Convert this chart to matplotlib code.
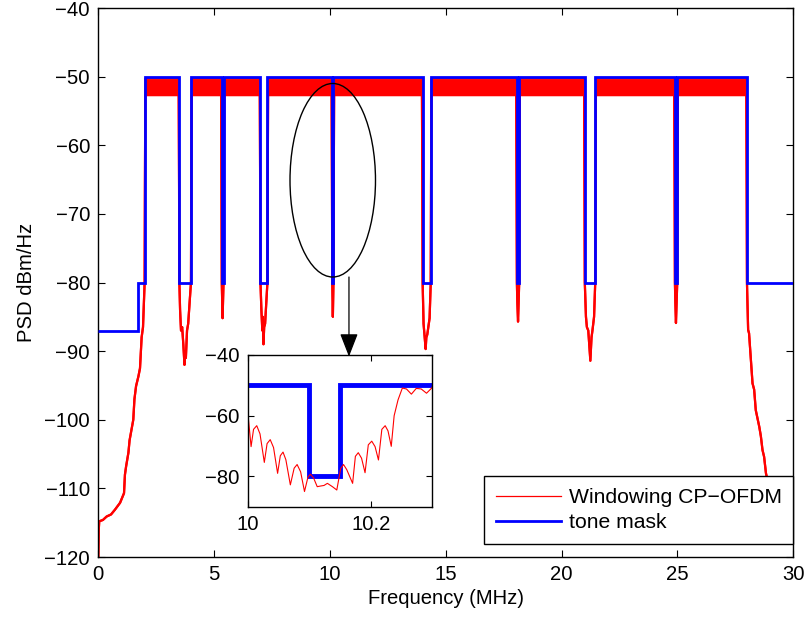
import matplotlib
matplotlib.use("Agg")
import matplotlib.pyplot as plt
from matplotlib.patches import Ellipse
from matplotlib.lines import Line2D

plt.rcParams['font.family'] = ['Liberation Sans', 'DejaVu Sans']
FS = 14.6
LFS = 15.2

# ---------------- data ----------------
# tone mask (stairs): edges in MHz, level in dBm/Hz between edges
mask_edges = [0, 1.7, 2.0, 3.5, 4.0, 5.33, 5.405, 7.0, 7.3, 10.1, 10.15,
              14.0, 14.35, 18.068, 18.168, 21.0, 21.45, 24.89, 24.99, 28.0, 30.0]
mask_levels = [-87, -80, -50, -80, -50, -80, -50, -80, -50, -80, -50,
               -80, -50, -80, -50, -80, -50, -80, -50, -80]

# active bands of the windowed CP-OFDM PSD and the noisy in-band envelope
bands = [(2.0, 3.5), (4.0, 5.33), (5.405, 7.0), (7.3, 10.1), (10.15, 14.0),
         (14.35, 18.068), (18.168, 21.0), (21.45, 24.89), (24.99, 28.0)]
band_top = -50.3
band_bottom = -52.7

# low-frequency roll-off (0 .. 2 MHz)
lead_freq = [0.0, 0.02, 0.04, 0.2, 0.36, 0.55, 0.72, 0.94, 1.11, 1.15, 1.20,
             1.30, 1.35, 1.41, 1.51, 1.56, 1.63, 1.73, 1.80, 1.87, 1.93, 2.0]
lead_psd = [-120.0, -116.0, -114.8, -114.6, -114.1, -113.8, -113.1, -112.1,
            -110.7, -108.0, -106.8, -104.8, -103.0, -101.9, -100.0, -97.0,
            -95.1, -93.7, -92.5, -88.0, -86.5, -80.0]

# notch profiles
notch_freqs = [
    [3.50, 3.53, 3.57, 3.62, 3.67, 3.72, 3.75, 3.78, 3.83, 3.88, 3.94, 4.00],
    [5.33, 5.35, 5.365, 5.38, 5.405],
    [7.0, 7.04, 7.08, 7.10, 7.13, 7.16, 7.20, 7.25, 7.30],
    [10.10, 10.115, 10.125, 10.135, 10.15],
    [14.0, 14.04, 14.09, 14.13, 14.16, 14.20, 14.25, 14.30, 14.35],
    [18.068, 18.09, 18.118, 18.14, 18.168],
    [21.0, 21.05, 21.09, 21.15, 21.19, 21.24, 21.29, 21.33, 21.40, 21.45],
    [24.89, 24.91, 24.935, 24.96, 24.99],
]
notch_psd = [
    [-80, -84, -87, -86.5, -89, -92, -90, -91, -87, -86, -83, -80],
    [-80, -83, -85.2, -83, -80],
    [-80, -84, -87, -85, -89, -86.5, -86, -83, -80],
    [-80, -83, -85, -83, -80],
    [-80, -86, -88, -89.7, -88, -87.6, -86.4, -85.2, -80],
    [-80, -83, -85.7, -83, -80],
    [-80, -85, -86.5, -87, -88.9, -91.4, -88, -87, -85, -80],
    [-80, -83, -85.9, -83, -80],
]

# high-frequency roll-off (28 .. 30 MHz)
tail_freq = [28.0, 28.05, 28.09, 28.17, 28.24, 28.31, 28.38, 28.53, 28.60,
             28.67, 28.74, 28.82, 29.0, 29.3, 29.6, 30.0]
tail_psd = [-80, -86.9, -87.4, -91.3, -94.7, -95.6, -98.6, -101.0, -102.4,
            -104.4, -105.4, -107.8, -110.5, -113.0, -115.5, -117.5]

# inset (zoom around the 10.1 MHz notch)
inset_freq = [10.0, 10.0055, 10.0095, 10.0147, 10.020, 10.027, 10.0315,
              10.0366, 10.042, 10.0486, 10.053, 10.0574, 10.062, 10.0693,
              10.0755, 10.0803, 10.086, 10.0923, 10.098, 10.102, 10.107,
              10.113, 10.118, 10.124, 10.1295, 10.1377, 10.1448, 10.151,
              10.1557, 10.161, 10.1705, 10.175, 10.1797, 10.185, 10.1907,
              10.196, 10.2016, 10.207, 10.2125, 10.218, 10.2234, 10.228,
              10.2333, 10.238, 10.2443, 10.2513, 10.258, 10.266, 10.274,
              10.282, 10.2906, 10.299, 10.30]
inset_psd = [-58.6, -70.2, -64.5, -63.3, -66.0, -75.4, -69.2, -67.9, -70.5,
             -79.0, -73.2, -72.0, -74.5, -82.8, -77.3, -76.1, -78.5, -85.0,
             -80.2, -79.3, -80.5, -83.4, -83.2, -83.0, -82.3, -83.4, -84.5,
             -77.5, -76.1, -77.8, -82.3, -73.4, -72.2, -74.0, -78.8, -69.6,
             -68.4, -70.2, -74.6, -64.5, -63.3, -65.0, -70.1, -60.0, -54.8,
             -50.9, -51.2, -52.9, -51.0, -51.2, -52.6, -50.9, -50.5]
inset_mask_edges = [10.0, 10.1, 10.15, 10.3]
inset_mask_levels = [-50, -80, -50]

# ---------------- assemble the red PSD polyline ----------------
f, hi, lo = [], [], []
def add(fr, h, l):
    f.append(fr); hi.append(h); lo.append(l)

for x, y in zip(lead_freq, lead_psd):
    add(x, y, y)
for i, (s, e) in enumerate(bands):
    add(s + 0.012, -66, -66)
    add(s + 0.03, band_top, band_bottom)
    add(e - 0.03, band_top, band_bottom)
    add(e - 0.012, -66, -66)
    if i < len(notch_freqs):
        for x, y in zip(notch_freqs[i], notch_psd[i]):
            add(x, y, y)
for x, y in zip(tail_freq, tail_psd):
    add(x, y, y)

# ---------------- figure ----------------
fig = plt.figure(figsize=(8.06, 6.21), dpi=100)
ax = fig.add_axes([98.3 / 806, 1 - 557 / 621, 695 / 806, 549 / 621])

ax.fill_between(f, lo, hi, color='red', lw=0, zorder=2)
ax.plot(f, lo, color='red', lw=1.6, zorder=2)
ax.plot(f, hi, color='red', lw=1.6, zorder=2)
ax.stairs(mask_levels, mask_edges, baseline=None, color='blue', lw=2.0, zorder=3)

ax.set_xlim(0, 30)
ax.set_ylim(-120, -40)
ax.set_xticks([0, 5, 10, 15, 20, 25, 30])
ax.set_yticks([-120, -110, -100, -90, -80, -70, -60, -50, -40])
ax.tick_params(direction='in', top=True, right=True, length=5, width=0.8,
               labelsize=FS, pad=6)
for sp in ax.spines.values():
    sp.set_linewidth(1.0)
ax.set_xlabel('Frequency (MHz)', fontsize=FS, labelpad=3)
ax.set_ylabel('PSD dBm/Hz', fontsize=FS, labelpad=6)

ax.add_patch(Ellipse((10.12, -65.1), 3.69, 28.2, fill=False, ec='black',
                     lw=1.0, zorder=4))
ax.annotate('', xy=(10.82, -90.8), xytext=(10.82, -79.2),
            arrowprops=dict(arrowstyle='-|>,head_length=0.72,head_width=0.28',
                            color='black', lw=0.9, mutation_scale=20,
                            shrinkA=0, shrinkB=0), zorder=4)

handles = [Line2D([], [], color='red', lw=0.9),
           Line2D([], [], color='blue', lw=2.0)]
leg = ax.legend(handles, ['Windowing CP\u2212OFDM', 'tone mask'],
                loc='lower right', bbox_to_anchor=(793.3 / 806, 1 - 544 / 621),
                bbox_transform=fig.transFigure, borderaxespad=0,
                fontsize=LFS, fancybox=False, framealpha=1, edgecolor='black',
                handlelength=3.1, handletextpad=0.35, borderpad=0.55,
                labelspacing=0.3)
leg.get_frame().set_linewidth(1.0)
leg.set_zorder(5)

# inset
ins = fig.add_axes([247.7 / 806, 1 - 506.7 / 621, 184.6 / 806, 151.7 / 621])
ins.plot(inset_freq, inset_psd, color='red', lw=0.8)
ins.stairs(inset_mask_levels, inset_mask_edges, baseline=None, color='blue', lw=3.5)
ins.set_xlim(10.0, 10.3)
ins.set_ylim(-90, -40)
ins.set_xticks([10.0, 10.2])
ins.set_xticklabels(['10', '10.2'])
ins.set_yticks([-80, -60, -40])
ins.tick_params(direction='in', top=True, right=True, length=4, width=0.8,
                labelsize=FS, pad=6)
for sp in ins.spines.values():
    sp.set_linewidth(1.0)

fig.savefig('out.png', dpi=100)
